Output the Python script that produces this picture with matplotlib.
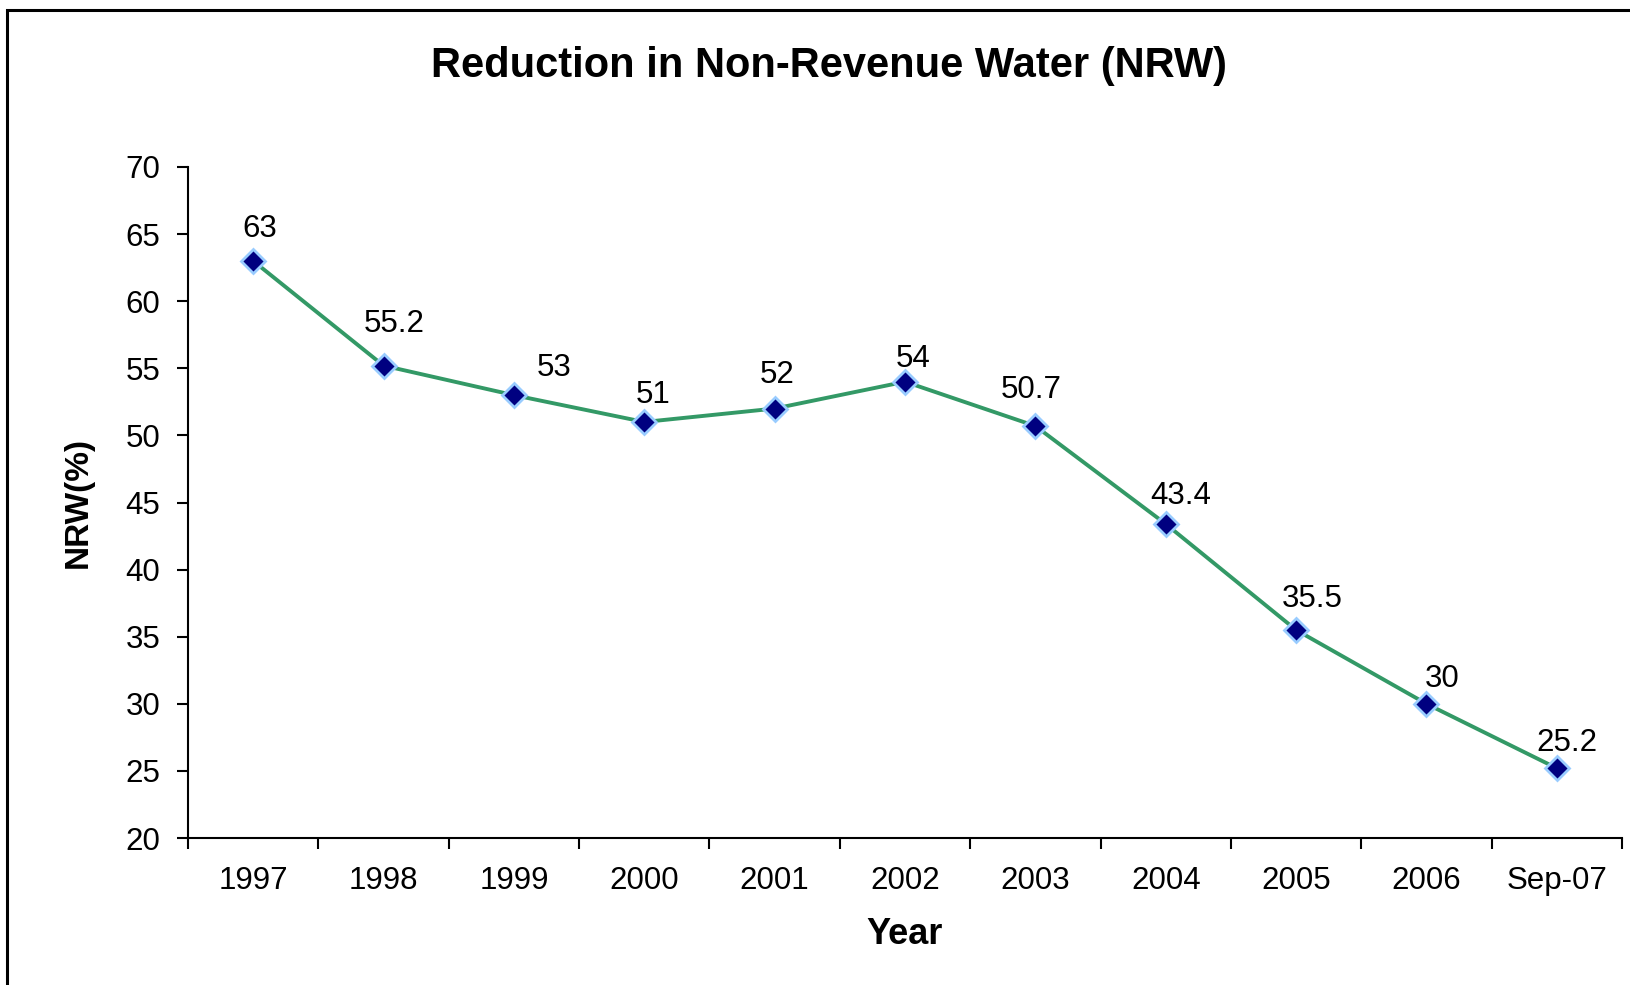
import matplotlib
matplotlib.use("Agg")
import matplotlib.pyplot as plt
from matplotlib.patches import Rectangle

# ---- data ----
categories = ["1997", "1998", "1999", "2000", "2001", "2002", "2003",
              "2004", "2005", "2006", "Sep-07"]
nrw = [63, 55.2, 53, 51, 52, 54, 50.7, 43.4, 35.5, 30, 25.2]
value_labels = ["63", "55.2", "53", "51", "52", "54", "50.7", "43.4", "35.5", "30", "25.2"]
y_ticks = [20, 25, 30, 35, 40, 45, 50, 55, 60, 65, 70]

# label offsets (pixels) relative to marker
label_dx = [7, 11, 40, 9, 3, 8, -4, 15, 16, 16, 10]
label_dy = [32, 42, 27, 27, 34, 23, 36, 28, 31, 25, 25]

plt.rcParams['font.family'] = ['Liberation Sans', 'DejaVu Sans']

W, H = 1631, 985
fig = plt.figure(figsize=(W / 100, H / 100), dpi=100)
fig.patch.set_facecolor('white')

left, right, bottom, top = 188 / W, 1622 / W, 1 - 838 / H, 1 - 167 / H
ax = fig.add_axes([left, bottom, right - left, top - bottom])

x = list(range(len(categories)))
ax.plot(x, nrw, color='#339966', lw=2.8, marker='D', markersize=12.5,
        markerfacecolor='#000080', markeredgecolor='#99CCFF', markeredgewidth=2,
        zorder=3, clip_on=False)

for xi, yi, lab, dx, dy in zip(x, nrw, value_labels, label_dx, label_dy):
    ax.annotate(lab, (xi, yi), xytext=(dx, dy), textcoords='offset pixels',
                ha='center', va='center', fontsize=22.5, color='black')

ax.set_xlim(-0.5, len(categories) - 0.5)
ax.set_ylim(20, 70)
ax.set_yticks(y_ticks)
ax.set_yticklabels([str(t) for t in y_ticks])

# category boundaries as major ticks, labels at centres as minor ticks
ax.set_xticks([i - 0.5 for i in range(len(categories) + 1)])
ax.set_xticklabels([])
ax.set_xticks(x, minor=True)
ax.set_xticklabels(categories, minor=True)
ax.tick_params(axis='x', which='major', direction='out', length=8, width=1.5)
ax.tick_params(axis='x', which='minor', length=0, pad=20, labelsize=22.5)
ax.tick_params(axis='y', direction='out', length=8, width=1.5, pad=12, labelsize=22.5)

for s in ['top', 'right']:
    ax.spines[s].set_visible(False)
for s in ['left', 'bottom']:
    ax.spines[s].set_linewidth(1.5)
    ax.spines[s].set_color('black')

ax.set_ylabel("NRW(%)", fontsize=24, fontweight='bold')
ax.yaxis.set_label_coords(-0.066, 0.5)
ax.set_xlabel("Year", fontsize=26, fontweight='bold')
ax.xaxis.set_label_coords(0.5, -0.118)
ax.xaxis.label.set_va('top')

fig.text(829 / W, 1 - 77 / H, "Reduction in Non-Revenue Water (NRW)",
         ha='center', va='baseline', fontsize=30, fontweight='bold')

# outer frame (left and top edges visible)
fig.add_artist(Rectangle((7.5 / W, -0.1), 1.2, 1.1 - 9.5 / H, transform=fig.transFigure,
                         fill=False, edgecolor='black', lw=2.2, clip_on=False))

fig.savefig("out.png", dpi=100)
